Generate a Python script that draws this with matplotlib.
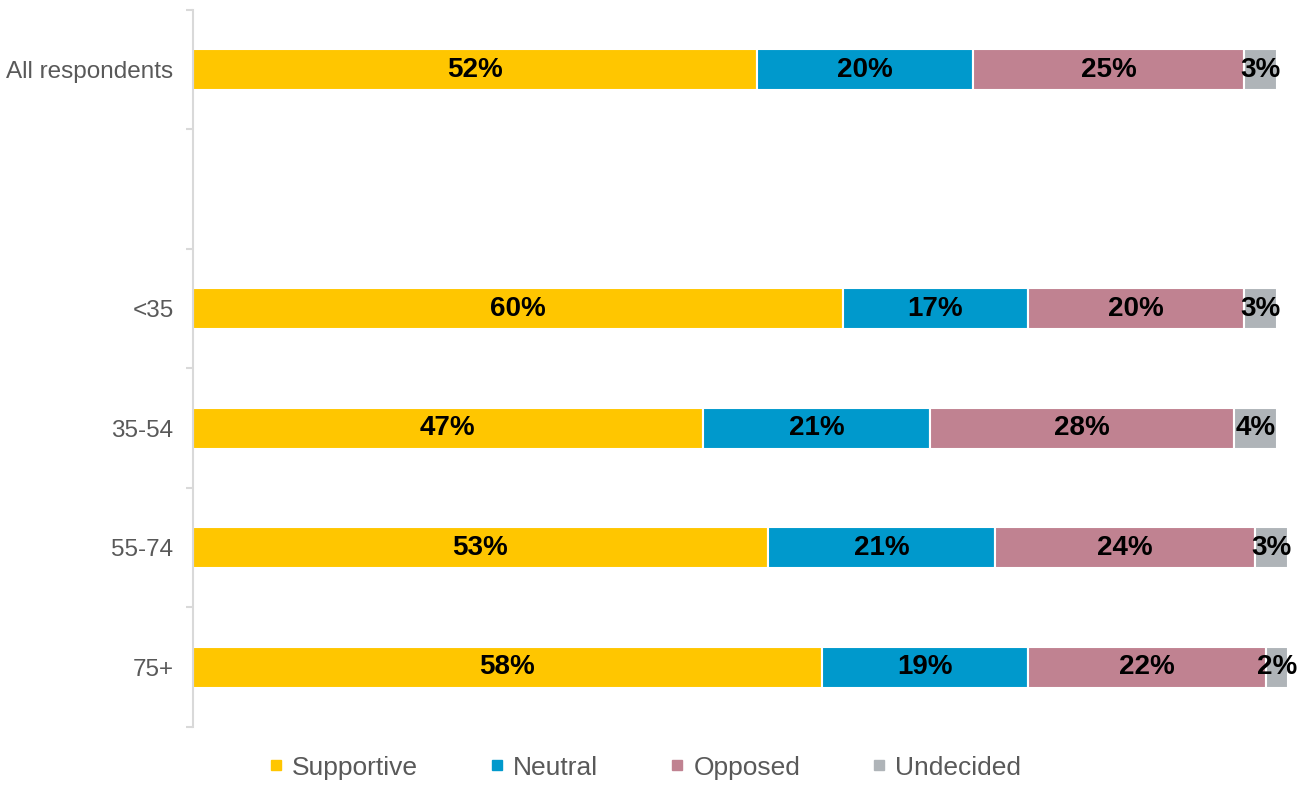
import numpy as np
import matplotlib.pyplot as plt
from matplotlib.lines import Line2D

plt.rcParams["font.family"] = ["Liberation Sans", "DejaVu Sans"]

groups = ["All respondents", "<35", "35-54", "55-74", "75+"]
series = ["Supportive", "Neutral", "Opposed", "Undecided"]
supportive = [52, 60, 47, 53, 58]
neutral = [20, 17, 21, 21, 19]
opposed = [25, 20, 28, 24, 22]
undecided = [3, 3, 4, 3, 2]

colors = ["#FFC600", "#0099CC", "#C08291", "#AFB4B8"]
axis_grey = "#D9D9D9"
text_grey = "#595959"

# first group stands alone, then an empty slot before the age bands
rows = [0, 2, 3, 4, 5]

fig = plt.figure(figsize=(13, 7.85), dpi=100)
ax = fig.add_axes([0.1485, 0.074, 0.9823 - 0.1485, 0.9873 - 0.074])

left = np.zeros(len(groups))
for name, vals, col in zip(series, [supportive, neutral, opposed, undecided], colors):
    vals = np.array(vals, dtype=float)
    ax.barh(rows, vals, left=left, height=0.345, color=col,
            edgecolor="white", linewidth=1.5, clip_on=False, label=name)
    for r, l, v in zip(rows, left, vals):
        ax.text(l + v / 2, r, f"{v:.0f}%", ha="center", va="center",
                fontsize=20, fontweight="bold", color="black", clip_on=False)
    left += vals

ax.set_xlim(0, 100)
ax.set_ylim(5.5, -0.5)

ax.set_yticks(rows)
ax.set_yticklabels(groups, fontsize=17.5, color=text_grey)
ax.set_yticks(np.arange(-0.5, 6.0, 1.0), minor=True)
ax.tick_params(axis="y", which="major", length=0, pad=14)
ax.tick_params(axis="y", which="minor", length=5, width=1.5, color=axis_grey,
               direction="out")

ax.xaxis.set_visible(False)
for side in ["top", "right", "bottom"]:
    ax.spines[side].set_visible(False)
ax.spines["left"].set_color(axis_grey)
ax.spines["left"].set_linewidth(1.5)

handles = [Line2D([], [], marker="s", linestyle="none", markersize=7,
                  markerfacecolor=c, markeredgecolor=c) for c in colors]
fig.legend(handles, series, loc="center", bbox_to_anchor=(0.496, 0.022),
           ncol=4, frameon=False, fontsize=19, labelcolor=text_grey,
           handlelength=0.6, handletextpad=0.3, columnspacing=2.7)

fig.savefig("out.png", dpi=100, facecolor="white")
